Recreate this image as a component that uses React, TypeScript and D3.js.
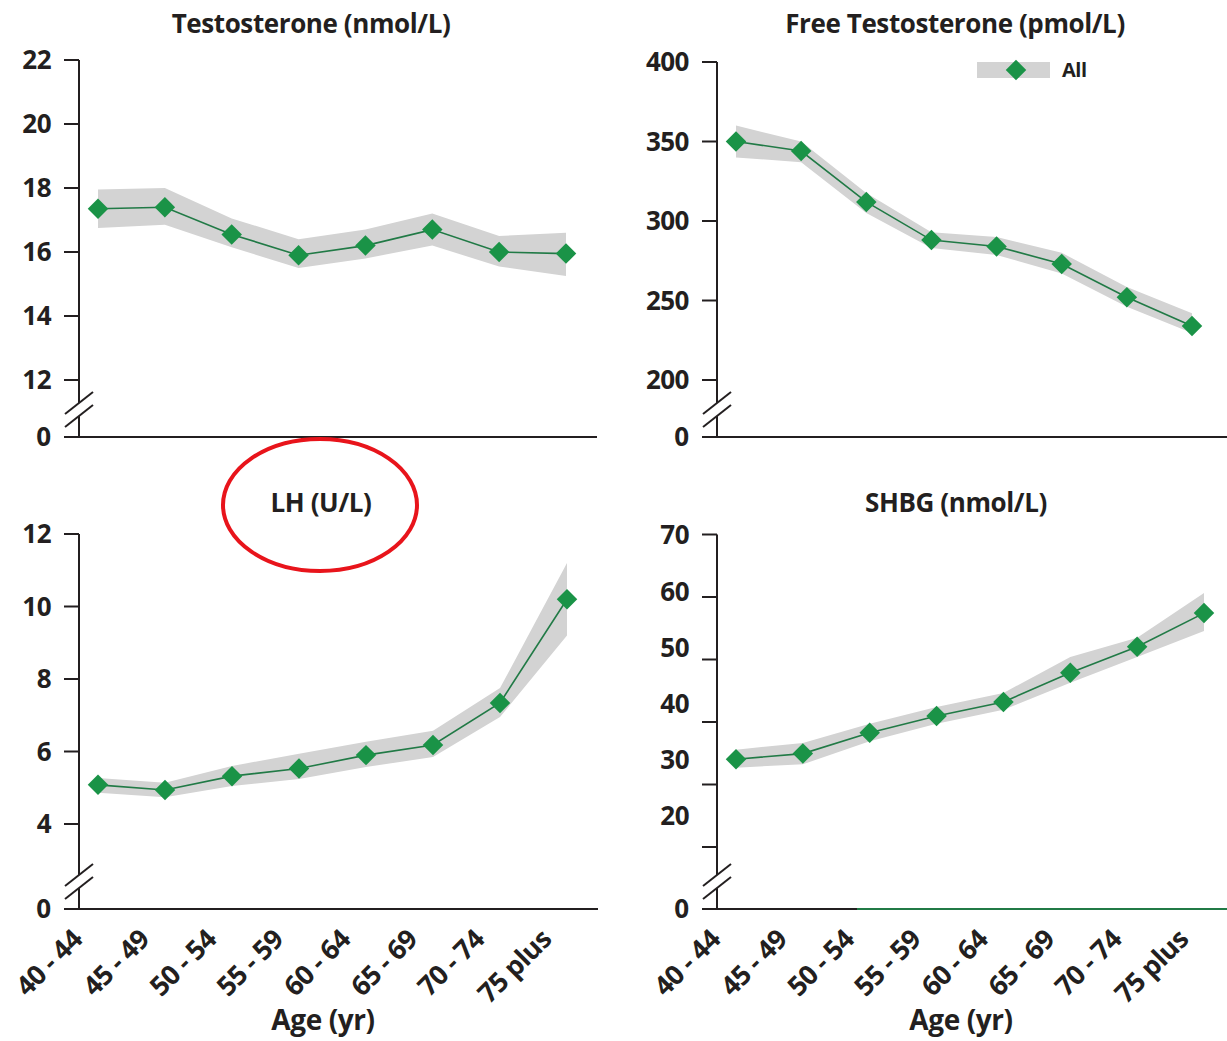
import React from "react";
import * as d3 from "d3";

const ageGroups = ["40 - 44", "45 - 49", "50 - 54", "55 - 59", "60 - 64", "65 - 69", "70 - 74", "75 plus"];

const testosterone = [17.35, 17.4, 16.55, 15.9, 16.2, 16.7, 16.0, 15.95];
const testosteroneLo = [16.75, 16.85, 16.15, 15.5, 15.8, 16.2, 15.55, 15.25];
const testosteroneHi = [17.95, 18.0, 17.05, 16.4, 16.7, 17.2, 16.5, 16.6];
const testosteroneTicks = [12, 14, 16, 18, 20, 22];

const freeT = [350, 344, 312, 288, 284, 273, 252, 234];
const freeTLo = [340, 337, 305, 283, 278.6, 267, 246, 229.6];
const freeTHi = [360, 350, 317.6, 293, 290, 280, 258.5, 242];
const freeTTicks = [200, 250, 300, 350, 400];

const lh = [5.08, 4.94, 5.32, 5.53, 5.9, 6.18, 7.34, 10.2];
const lhLo = [4.86, 4.74, 5.05, 5.24, 5.57, 5.85, 6.95, 9.2];
const lhHi = [5.27, 5.14, 5.6, 5.94, 6.27, 6.57, 7.75, 11.2];
const lhTicks = [4, 6, 8, 10, 12];

const shbg = [30.1, 31.1, 34.8, 37.8, 40.3, 45.5, 50.1, 56.1];
const shbgLo = [28.6, 29.2, 33.3, 36.4, 38.9, 43.7, 48.3, 52.9];
const shbgHi = [31.8, 33.0, 36.4, 39.4, 41.9, 48.3, 51.7, 59.7];
const shbgTicks = [20, 30, 40, 50, 60, 70];

const legendLabel = "All";
const xAxisTitle = "Age (yr)";

const FONT = "'Open Sans', 'Noto Sans', sans-serif";
const GREEN = "#1a9347";
const LINE_GREEN = "#217a46";
const BAND = "#d3d3d3";
const AXIS = "#231f20";

type PanelProps = {
  title: string;
  titleX: number;
  titleY: number;
  axisX: number;
  xRange: [number, number];
  yDomain: [number, number];
  yRange: [number, number];
  labelRange?: [number, number];
  ticks: number[];
  zeroY: number;
  baseX2: number;
  greenFromX?: number;
  values: number[];
  lo: number[];
  hi: number[];
  showX: boolean;
  axisTitleX?: number;
  legend?: { x: number; y: number };
};

function Panel(p: PanelProps) {
  const x = d3.scalePoint<string>().domain(ageGroups).range(p.xRange);
  const yTick = d3.scaleLinear().domain(p.yDomain).range(p.yRange);
  const yLab = d3.scaleLinear().domain(p.yDomain).range(p.labelRange ?? p.yRange);
  const yData = yLab;
  const rows = ageGroups.map((g, i) => ({ g, v: p.values[i], lo: p.lo[i], hi: p.hi[i] }));
  const area = d3
    .area<any>()
    .x((d) => x(d.g)!)
    .y0((d) => yData(d.lo))
    .y1((d) => yData(d.hi));
  const line = d3
    .line<any>()
    .x((d) => x(d.g)!)
    .y((d) => yData(d.v));
  const diamond = d3.symbol().type(d3.symbolSquare).size(210)();
  const topY = p.yRange[1];
  const axisX = p.axisX;
  const b1 = p.zeroY - 34;
  const b2 = p.zeroY - 21;
  const tickLen = 15;
  return (
    <g>
      <text x={p.titleX} y={p.titleY} textAnchor="middle" fontFamily={FONT} fontWeight={700} fontSize={26} fill={AXIS} letterSpacing={-0.4}>
        {p.title}
      </text>
      {/* y axis */}
      <line x1={axisX} x2={axisX} y1={topY} y2={p.zeroY} stroke={AXIS} strokeWidth={2} />
      {p.ticks.map((t) => (
        <g key={t}>
          <line x1={axisX - tickLen} x2={axisX} y1={yTick(t)} y2={yTick(t)} stroke={AXIS} strokeWidth={2} />
          <text x={axisX - 28} y={yLab(t)} dy="0.36em" textAnchor="end" fontFamily={FONT} fontWeight={700} fontSize={26} fill={AXIS} letterSpacing={-0.5}>
            {t}
          </text>
        </g>
      ))}
      {/* break */}
      <polygon
        points={`${axisX - 14},${b1 + 11} ${axisX + 14},${b1 - 11} ${axisX + 14},${b2 - 11} ${axisX - 14},${b2 + 11}`}
        fill="#fff"
      />
      <line x1={axisX - 14} y1={b1 + 11} x2={axisX + 14} y2={b1 - 11} stroke={AXIS} strokeWidth={2} />
      <line x1={axisX - 14} y1={b2 + 11} x2={axisX + 14} y2={b2 - 11} stroke={AXIS} strokeWidth={2} />
      {/* baseline */}
      <line x1={axisX - tickLen} x2={p.greenFromX ?? p.baseX2} y1={p.zeroY} y2={p.zeroY} stroke={AXIS} strokeWidth={2} />
      {p.greenFromX !== undefined && (
        <line x1={p.greenFromX} x2={p.baseX2} y1={p.zeroY} y2={p.zeroY} stroke={LINE_GREEN} strokeWidth={2} />
      )}
      <text x={axisX - 28} y={p.zeroY} dy="0.36em" textAnchor="end" fontFamily={FONT} fontWeight={700} fontSize={26} fill={AXIS}>
        0
      </text>
      {/* data */}
      <path d={area(rows) ?? ""} fill={BAND} />
      <path d={line(rows) ?? ""} fill="none" stroke={LINE_GREEN} strokeWidth={1.6} />
      {rows.map((r) => (
        <path key={r.g} d={diamond ?? ""} transform={`translate(${x(r.g)},${yData(r.v)}) rotate(45)`} fill={GREEN} />
      ))}
      {p.legend && (
        <g>
          <rect x={p.legend.x} y={p.legend.y - 8} width={73} height={16} fill={BAND} />
          <path d={diamond ?? ""} transform={`translate(${p.legend.x + 39},${p.legend.y}) rotate(45)`} fill={GREEN} />
          <text x={p.legend.x + 85} y={p.legend.y} dy="0.36em" fontFamily={FONT} fontWeight={700} fontSize={20} fill={AXIS} letterSpacing={-0.5}>
            {legendLabel}
          </text>
        </g>
      )}
      {p.showX && (
        <g>
          {ageGroups.map((g) => (
            <text
              key={g}
              transform={`translate(${x(g)! - 14},${p.zeroY + 32}) rotate(-45)`}
              textAnchor="end"
              fontFamily={FONT}
              fontWeight={700}
              fontSize={27}
              fill={AXIS}
              letterSpacing={-0.6}
            >
              {g}
            </text>
          ))}
          <text
            x={p.axisTitleX}
            y={p.zeroY + 121}
            textAnchor="middle"
            fontFamily={FONT}
            fontWeight={700}
            fontSize={28}
            fill={AXIS}
            letterSpacing={-0.4}
          >
            {xAxisTitle}
          </text>
        </g>
      )}
    </g>
  );
}

export default function App() {
  return (
    <svg width={1227} height={1041} style={{ position: "absolute", left: 0, top: 0, background: "#fff" }}>
      <rect width={1227} height={1041} fill="#fff" />
      <Panel
        title="Testosterone (nmol/L)"
        titleX={311}
        titleY={33}
        axisX={79}
        xRange={[98, 566]}
        yDomain={[12, 22]}
        yRange={[380, 60]}
        ticks={testosteroneTicks}
        zeroY={437}
        baseX2={597}
        values={testosterone}
        lo={testosteroneLo}
        hi={testosteroneHi}
        showX={false}
      />
      <Panel
        title="Free Testosterone (pmol/L)"
        titleX={955}
        titleY={33}
        axisX={717}
        xRange={[736, 1192]}
        yDomain={[200, 400]}
        yRange={[380, 62]}
        ticks={freeTTicks}
        zeroY={437}
        baseX2={1227}
        values={freeT}
        lo={freeTLo}
        hi={freeTHi}
        showX={false}
        legend={{ x: 977, y: 70 }}
      />
      <Panel
        title="LH (U/L)"
        titleX={321}
        titleY={512}
        axisX={79}
        xRange={[98, 567]}
        yDomain={[4, 12]}
        yRange={[824, 534]}
        ticks={lhTicks}
        zeroY={909}
        baseX2={598}
        values={lh}
        lo={lhLo}
        hi={lhHi}
        showX={true}
        axisTitleX={323}
      />
      <Panel
        title="SHBG (nmol/L)"
        titleX={956}
        titleY={512}
        axisX={717}
        xRange={[736, 1204]}
        yDomain={[20, 70]}
        yRange={[847, 534.5]}
        labelRange={[816, 535]}
        ticks={shbgTicks}
        zeroY={909}
        baseX2={1227}
        greenFromX={857}
        values={shbg}
        lo={shbgLo}
        hi={shbgHi}
        showX={true}
        axisTitleX={961}
      />
      <ellipse cx={320} cy={505} rx={97} ry={66} fill="none" stroke="#e8141b" strokeWidth={4} />
    </svg>
  );
}
